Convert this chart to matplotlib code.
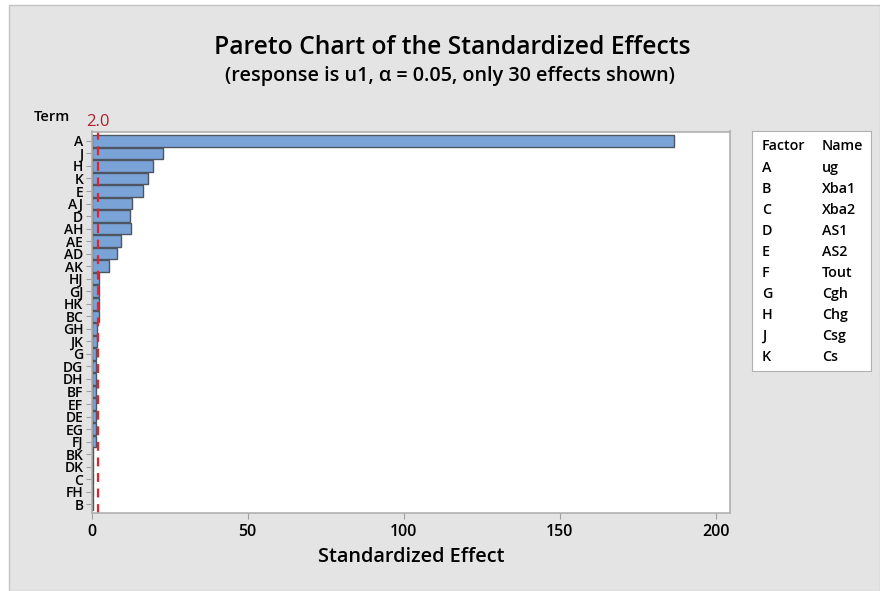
import matplotlib
matplotlib.use("Agg")
import matplotlib.pyplot as plt
from matplotlib.patches import Rectangle

plt.rcParams["font.family"] = ["Open Sans", "DejaVu Sans"]

# Terms in the order shown (top to bottom) and their standardized effects
terms = ["A", "J", "H", "K", "E", "AJ", "D", "AH", "AE", "AD", "AK", "HJ", "GJ", "HK", "BC",
         "GH", "JK", "G", "DG", "DH", "BF", "EF", "DE", "EG", "FJ", "BK", "DK", "C", "FH", "B"]
effects = [186.5, 22.9, 19.6, 17.9, 16.3, 12.9, 12.3, 12.5, 9.4, 8.0, 5.6, 2.5, 2.3, 2.3, 2.3,
           1.6, 1.6, 1.5, 1.5, 1.4, 1.4, 1.4, 1.4, 1.4, 1.3, 0.5, 0.5, 0.4, 0.4, 0.3]
critical = 2.0

factors = ["A", "B", "C", "D", "E", "F", "G", "H", "J", "K"]
names = ["ug", "Xba1", "Xba2", "AS1", "AS2", "Tout", "Cgh", "Chg", "Csg", "Cs"]

W, H = 880, 591
fig = plt.figure(figsize=(W / 100, H / 100), dpi=100, facecolor="white")

# gray panel behind everything
fig.patches.append(Rectangle((9 / W, 0), 1 - 9 / W, 1 - 5 / H, transform=fig.transFigure,
                             facecolor="#e4e4e4", edgecolor="#c4c4c4", linewidth=1, zorder=-10))

ax = fig.add_axes([91.7 / W, 1 - 513 / H, (730 - 91.7) / W, (513 - 131.5) / H])
ax.set_facecolor("white")

ypos = range(len(terms))
ax.barh(ypos, effects, height=0.92, color="#7aa4d8", edgecolor="#4d5560", linewidth=1)
ax.axvline(critical, color="#e3222b", linestyle=(0, (4, 3)), linewidth=1.6)

ax.set_xlim(0, 204.6)
ax.set_ylim(len(terms) - 0.3, -0.75)
ax.set_yticks(list(ypos))
ax.set_yticklabels(terms, fontsize=10, fontweight="semibold")
ax.set_xticks([0, 50, 100, 150, 200])
ax.set_xticklabels(["0", "50", "100", "150", "200"], fontsize=11.5, fontweight="semibold")
ax.tick_params(axis="x", length=4, color="#a0a0a0", pad=4)
ax.tick_params(axis="y", length=4, color="#a0a0a0", pad=2)
for s in ax.spines.values():
    s.set_color("#b0b0b0")
    s.set_linewidth(1.2)

ax.set_xlabel("Standardized Effect", fontsize=14.3, fontweight="semibold", labelpad=5)

fig.text(52 / W, 1 - 117 / H, "Term", ha="center", va="center", fontsize=10.5,
         fontweight="semibold")
ax.text(critical, 1.005, "2.0", transform=ax.get_xaxis_transform(), ha="center", va="bottom",
        fontsize=12, color="#b0202a")

fig.text(452 / W, 1 - 47 / H, "Pareto Chart of the Standardized Effects", ha="center",
         va="center", fontsize=17.7, fontweight="semibold")
fig.text(450 / W, 1 - 76 / H, "(response is u1, \u03b1 = 0.05, only 30 effects shown)",
         ha="center", va="center", fontsize=14.2, fontweight="semibold")

# factor legend box
lax = fig.add_axes([752 / W, 1 - 371 / H, (871 - 752) / W, (371 - 131) / H])
lax.set_xticks([])
lax.set_yticks([])
lax.set_facecolor("white")
for s in lax.spines.values():
    s.set_color("#b0b0b0")
lax.set_xlim(752, 871)
lax.set_ylim(371, 131)
lax.text(762, 146, "Factor", ha="left", va="center", fontsize=10.3, fontweight="semibold")
lax.text(822, 146, "Name", ha="left", va="center", fontsize=10.3, fontweight="semibold")
for i, (f, n) in enumerate(zip(factors, names)):
    y = 168 + i * 21
    lax.text(762, y, f, ha="left", va="center", fontsize=10.3, fontweight="semibold")
    lax.text(822, y, n, ha="left", va="center", fontsize=10.3, fontweight="semibold")

fig.savefig("out.png", dpi=100)
